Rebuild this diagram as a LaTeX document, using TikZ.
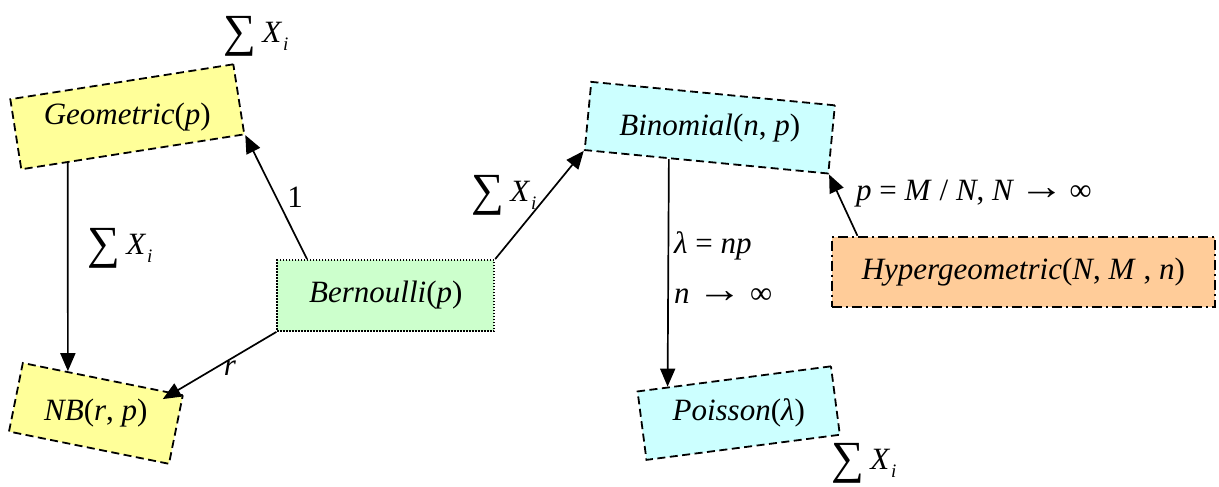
\documentclass[tikz,border=0pt]{standalone}
\usepackage{fontspec}
\setmainfont{Liberation Serif}
\usetikzlibrary{arrows.meta,calc}
\definecolor{yel}{HTML}{FFFF99}
\definecolor{grn}{HTML}{CCFFCC}
\definecolor{cyn}{HTML}{CCFFFF}
\definecolor{org}{HTML}{FFCC99}
\newcommand{\mysum}{\raisebox{-4pt}{\fontsize{46}{46}\selectfont ∑}}
\newcommand{\sumXi}{\mysum\kern6pt\textit{X}\kern1pt\raisebox{-8pt}{\fontsize{19}{19}\selectfont\textit{i}}}
\newcommand{\rarr}{\raisebox{1pt}{\scalebox{1.45}[1.25]{→}}}
\begin{document}
\begin{tikzpicture}[x=1pt,y=-1pt,
  font=\fontsize{31}{33}\selectfont,
  box/.style={draw, line width=1.8pt, inner sep=0pt, dash pattern=on 8pt off 4.5pt},
  dotbox/.style={draw, line width=1.8pt, inner sep=0pt, dash pattern=on 1.5pt off 1.5pt},
  dotdash/.style={draw, line width=1.8pt, inner sep=0pt, dash pattern=on 10pt off 4pt on 2pt off 4pt},
  lbl/.style={inner sep=0pt},
  arr/.style={line width=1.7pt, -{Triangle[length=18pt,width=15pt]}}]
\useasboundingbox (0,0) rectangle (1219,487);
% boxes
\node[box, fill=yel, rotate=8.9, minimum width=225.7pt, minimum height=70.9pt] (geo) at (127.3,116.8) {};
\node[box, fill=yel, rotate=-11.4, minimum width=163.2pt, minimum height=69.9pt] (nb) at (95.9,413.4) {};
\node[dotbox, fill=grn, minimum width=217pt, minimum height=71pt] (ber) at (385.8,295.5) {};
\node[box, fill=cyn, rotate=-5.5, minimum width=244.7pt, minimum height=68.5pt] (bin) at (709.8,127.7) {};
\node[box, fill=cyn, rotate=7.4, minimum width=195pt, minimum height=69pt] (poi) at (738.7,413.1) {};
\node[dotdash, fill=org, minimum width=383pt, minimum height=70pt] (hyp) at (1023.3,271.7) {};
% box texts
\node[lbl] (geot) at (geo.center) {\textit{Geometric}(\textit{p})};
\node[lbl] (nbt) at (nb.center) {\textit{NB}(\textit{r}, \textit{p})};
\node[lbl] (bert) at (ber.center) {\textit{Bernoulli}(\textit{p})};
\node[lbl] (bint) at (bin.center) {\textit{Binomial}(\textit{n}, \textit{p})};
\node[lbl] (poit) at (poi.center) {\textit{Poisson}(\textit{λ})};
\node[lbl] (hypt) at (hyp.center) {\textit{Hypergeometric}(\textit{N}, \textit{M} , \textit{n})};
% connectors
\draw[arr] ($(geo.south west)!0.21!(geo.south east)$) -- ($(nb.north west)!0.283!(nb.north east)$);
\draw[arr] ($(ber.north west)!0.14!(ber.north east)$) -- (geo.south east);
\draw[arr] (ber.north east) -- (bin.south west);
\draw[arr] (ber.south west) -- ($(nb.north east)!0.12!(nb.south west)$);
\draw[arr] ($(bin.south west)!0.347!(bin.south east)$) -- ($(poi.north west)!0.159!(poi.north east)$);
\draw[arr] ($(hyp.north west)!0.069!(hyp.north east)$) -- (bin.south east);
% labels
\node[lbl] (s1) at (256,36) {\sumXi};
\node[lbl] (s2) at (120,248) {\sumXi};
\node[lbl] (one) at (295,197) {1};
\node[lbl] (s3) at (504,195) {\sumXi};
\node[lbl] (rl) at (230,368) {\textit{r}};
\node[lbl, anchor=west] (lam) at (674,246) {\textit{λ} = \textit{np}};
\node[lbl, anchor=west] (ninf) at (674,296) {\textit{n} \rarr\ ∞};
\node[lbl, anchor=west] (pmn) at (856,194) {\textit{p} = \textit{M} / \textit{N}, \textit{N}\,\rarr\,∞};
\node[lbl] (s4) at (864,463) {\sumXi};
\end{tikzpicture}
\end{document}
